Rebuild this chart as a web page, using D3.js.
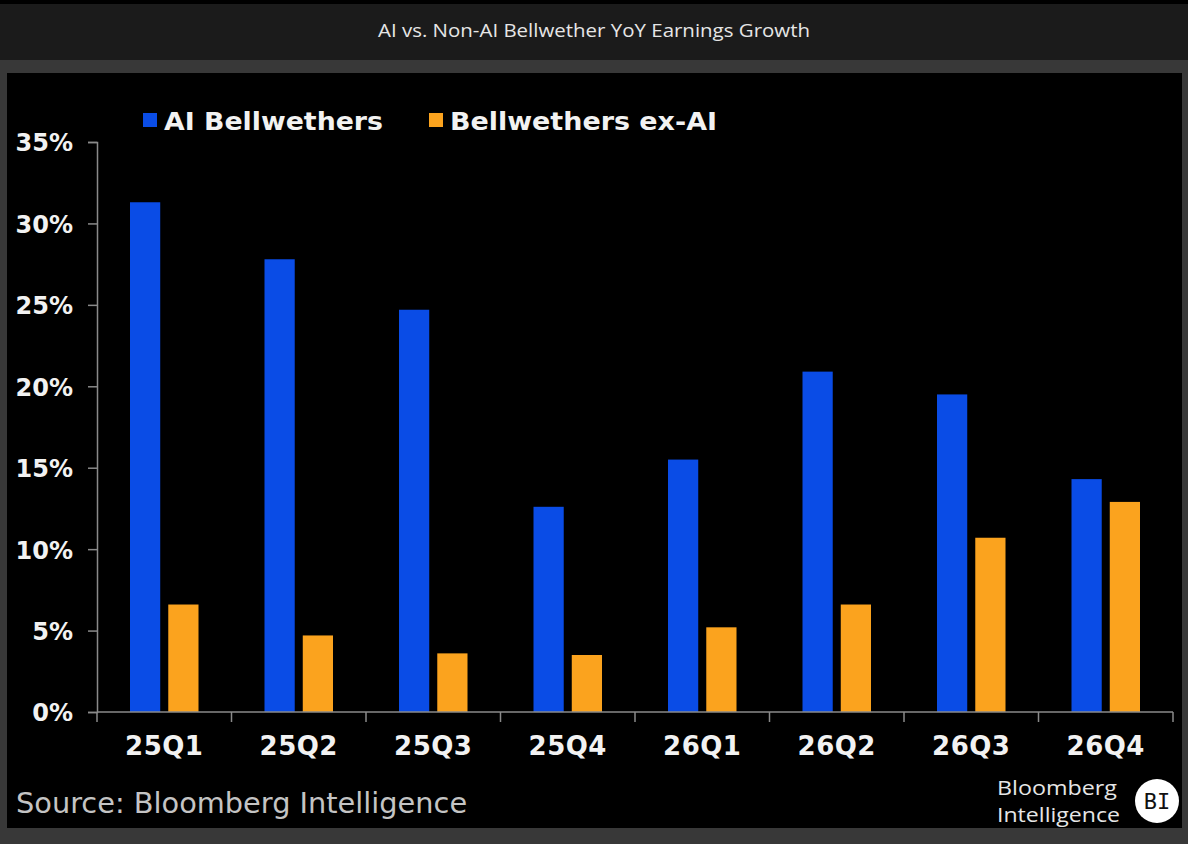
<!DOCTYPE html>
<html>
<head>
<meta charset="utf-8">
<script src="https://cdn.jsdelivr.net/npm/d3@7"></script>
<style>
  html, body { margin: 0; padding: 0; background: #383838; }
  svg { display: block; }
</style>
</head>
<body>
<script>
// chart data
var quarters = ["25Q1","25Q2","25Q3","25Q4","26Q1","26Q2","26Q3","26Q4"];
var seriesNames = ["AI Bellwethers","Bellwethers ex-AI"];
var aiValues = [31.3, 27.8, 24.7, 12.6, 15.5, 20.9, 19.5, 14.3];
var exAiValues = [6.6, 4.7, 3.6, 3.5, 5.2, 6.6, 10.7, 12.9];
var yTicks = [0, 5, 10, 15, 20, 25, 30, 35];
var seriesColors = ["#0a4ce6", "#fba31e"];

var width = 1188, height = 844;

var svg = d3.select("body").append("svg")
  .attr("width", width)
  .attr("height", height);

// page frame: header strip, grey band, black chart panel
svg.append("rect").attr("x",0).attr("y",0).attr("width",width).attr("height",height).attr("fill","#383838");
svg.append("rect").attr("x",0).attr("y",0).attr("width",width).attr("height",60).attr("fill","#1b1b1b");
svg.append("rect").attr("x",0).attr("y",0).attr("width",width).attr("height",4).attr("fill","#000");
svg.append("rect").attr("x",7).attr("y",73).attr("width",1175).attr("height",755).attr("fill","#000");

svg.append("text")
  .attr("x", 594).attr("y", 37)
  .attr("text-anchor","middle")
  .attr("textLength", 432)
  .attr("lengthAdjust","spacingAndGlyphs")
  .style("font-family","'Open Sans', sans-serif")
  .style("font-size","19px")
  .attr("fill","#e6e6e6")
  .text("AI vs. Non-AI Bellwether YoY Earnings Growth");

// scales
var x0 = d3.scaleBand().domain(quarters).range([97, 1173]).padding(0);
var x1 = d3.scaleBand().domain(seriesNames).range([33, 101.5]).paddingInner(0.21);
var y = d3.scaleLinear().domain([0, 35]).range([712, 142]);

// rows: one per quarter
var rows = quarters.map(function(q, i){
  return {q: q, values: [aiValues[i], exAiValues[i]]};
});

// y axis
var yAxis = svg.append("g")
  .attr("transform","translate(97,0)")
  .call(d3.axisLeft(y).tickValues(yTicks).tickSize(9).tickPadding(15)
    .tickFormat(function(d){ return d + "%"; }));
yAxis.select(".domain").attr("stroke","#8a8a8a").attr("stroke-width",1.5);
yAxis.selectAll(".tick line").attr("stroke","#8a8a8a").attr("stroke-width",1.5);
yAxis.selectAll(".tick text")
  .attr("dy","0.37em")
  .attr("fill","#f2f2f2")
  .style("font-family","'DejaVu Sans', Verdana, sans-serif")
  .style("font-weight","bold")
  .style("font-size","24px");

// bars
var groups = svg.selectAll(".quarter")
  .data(rows)
  .enter()
  .append("g")
  .attr("class","quarter")
  .attr("transform", function(d){ return "translate(" + x0(d.q) + ",0)"; });

groups.selectAll("rect")
  .data(function(d){ return d.values.map(function(v, k){ return {name: seriesNames[k], v: v, k: k}; }); })
  .enter()
  .append("rect")
  .attr("x", function(d){ return x1(d.name); })
  .attr("y", function(d){ return y(d.v); })
  .attr("width", x1.bandwidth())
  .attr("height", function(d){ return y(0) - y(d.v); })
  .attr("fill", function(d){ return seriesColors[d.k]; });

// x axis: baseline, boundary ticks, labels
var xAxis = svg.append("g").attr("class","x-axis");
xAxis.append("line")
  .attr("x1", x0.range()[0]).attr("x2", x0.range()[1])
  .attr("y1", y(0)).attr("y2", y(0))
  .attr("stroke","#8a8a8a").attr("stroke-width",1.5);
var bounds = quarters.map(function(q){ return x0(q); }).concat([x0.range()[1]]);
xAxis.selectAll(".xtick")
  .data(bounds)
  .enter()
  .append("line")
  .attr("class","xtick")
  .attr("x1", function(d){ return d; }).attr("x2", function(d){ return d; })
  .attr("y1", y(0)).attr("y2", y(0) + 10)
  .attr("stroke","#8a8a8a").attr("stroke-width",1.5);
xAxis.selectAll(".xlabel")
  .data(quarters)
  .enter()
  .append("text")
  .attr("class","xlabel")
  .attr("x", function(d){ return x0(d) + x0.bandwidth()/2; })
  .attr("y", 755)
  .attr("text-anchor","middle")
  .attr("fill","#f2f2f2")
  .style("font-family","'DejaVu Sans', Verdana, sans-serif")
  .style("font-weight","bold")
  .style("font-size","26px")
  .style("letter-spacing","0.5px")
  .text(function(d){ return d; });

// legend
var legendX = [143, 429];
var legendW = [219, 267];
var legend = svg.selectAll(".legend")
  .data(seriesNames)
  .enter()
  .append("g")
  .attr("class","legend")
  .attr("transform", function(d, i){ return "translate(" + legendX[i] + ",113)"; });
legend.append("rect")
  .attr("width",14).attr("height",14)
  .attr("fill", function(d, i){ return seriesColors[i]; });
legend.append("text")
  .attr("x", 21).attr("y", 17)
  .attr("textLength", function(d, i){ return legendW[i]; })
  .attr("lengthAdjust","spacingAndGlyphs")
  .attr("fill","#f2f2f2")
  .style("font-family","'DejaVu Sans', Verdana, sans-serif")
  .style("font-weight","bold")
  .style("font-size","25px")
  .text(function(d){ return d; });

// source note
svg.append("text")
  .attr("x", 16).attr("y", 813)
  .attr("fill","#c4c4c4")
  .style("font-family","'DejaVu Sans', sans-serif")
  .style("font-size","28.8px")
  .text("Source: Bloomberg Intelligence");

// BI logo
var logo = svg.append("g");
logo.append("text").attr("x",997).attr("y",794.5)
  .attr("textLength",120).attr("lengthAdjust","spacingAndGlyphs")
  .attr("fill","#e6e6e6")
  .style("font-family","'Open Sans', sans-serif").style("font-size","20px")
  .text("Bloomberg");
logo.append("text").attr("x",997).attr("y",822)
  .attr("textLength",123).attr("lengthAdjust","spacingAndGlyphs")
  .attr("fill","#e6e6e6")
  .style("font-family","'Open Sans', sans-serif").style("font-size","20px")
  .text("Intelligence");
logo.append("circle").attr("cx",1157).attr("cy",801).attr("r",22).attr("fill","#fff");
logo.append("text").attr("x",1157).attr("y",809)
  .attr("text-anchor","middle")
  .attr("fill","#111")
  .style("font-family","'DejaVu Sans Mono', monospace").style("font-size","22px")
  .text("BI");
</script>
</body>
</html>
